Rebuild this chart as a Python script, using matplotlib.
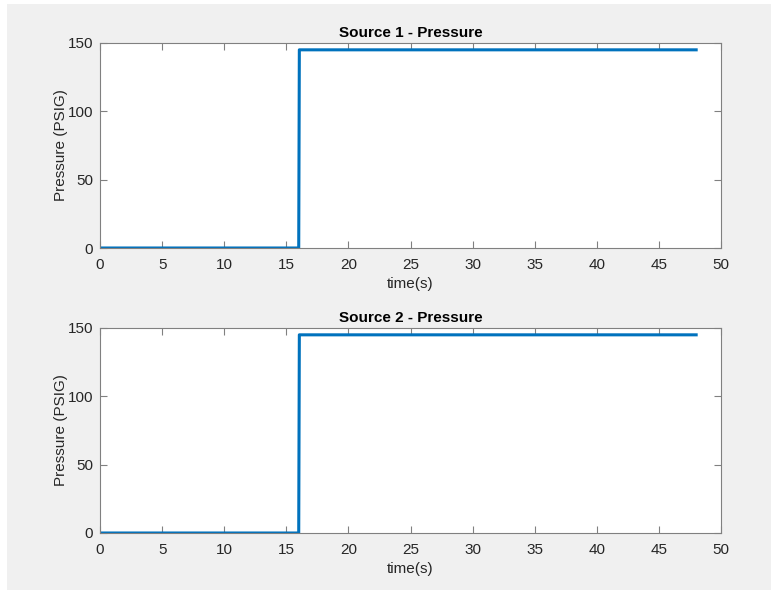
import matplotlib
matplotlib.use('Agg')
from matplotlib import pyplot as plt
from matplotlib.patches import Rectangle

# step data
time_s = [0, 16, 16.05, 48]
source1_psig = [0, 0, 145, 145]
source2_psig = [0, 0, 145, 145]
titles = ['Source 1 - Pressure', 'Source 2 - Pressure']
x_ticks = [0, 5, 10, 15, 20, 25, 30, 35, 40, 45, 50]
y_ticks = [0, 50, 100, 150]

plt.rcParams['font.family'] = ['Liberation Sans', 'DejaVu Sans']

W, H = 771, 590
fig = plt.figure(figsize=(W / 100, H / 100), dpi=100, facecolor='white')
# grey figure area, white margin top/left like the screenshot
fig.patches.append(Rectangle((7 / W, 0), 1 - 7 / W, 1 - 4 / H,
                             transform=fig.transFigure, facecolor='#f0f0f0',
                             edgecolor='none', zorder=-10))

txt = '#262626'
edge = '#808080'


def px_axes(left, top, right, bottom):
    return fig.add_axes([left / W, 1 - bottom / H, (right - left) / W, (bottom - top) / H])


boxes = [(100, 43, 721, 248), (100, 328, 721, 533)]
series = [source1_psig, source2_psig]

for box, vals, title in zip(boxes, series, titles):
    ax = px_axes(*box)
    ax.plot(time_s, vals, color='#0072BD', linewidth=2.2)
    ax.set_xlim(0, 50)
    ax.set_ylim(0, 150)
    ax.set_xticks(x_ticks)
    ax.set_yticks(y_ticks)
    ax.tick_params(direction='in', top=True, right=True, length=5, width=0.8,
                   colors=edge, labelcolor=txt, labelsize=11)
    ax.tick_params(axis='x', pad=7)
    ax.tick_params(axis='y', pad=5)
    for s in ax.spines.values():
        s.set_color(edge)
        s.set_linewidth(0.8)
    ax.set_xlabel('time(s)', fontsize=11, color=txt, labelpad=4)
    ax.set_ylabel('Pressure (PSIG)', fontsize=11, color=txt, labelpad=0)
    ax.set_title(title, fontsize=11, fontweight='bold', color='black', pad=4)

fig.savefig('out.png', dpi=100, facecolor=fig.get_facecolor())
